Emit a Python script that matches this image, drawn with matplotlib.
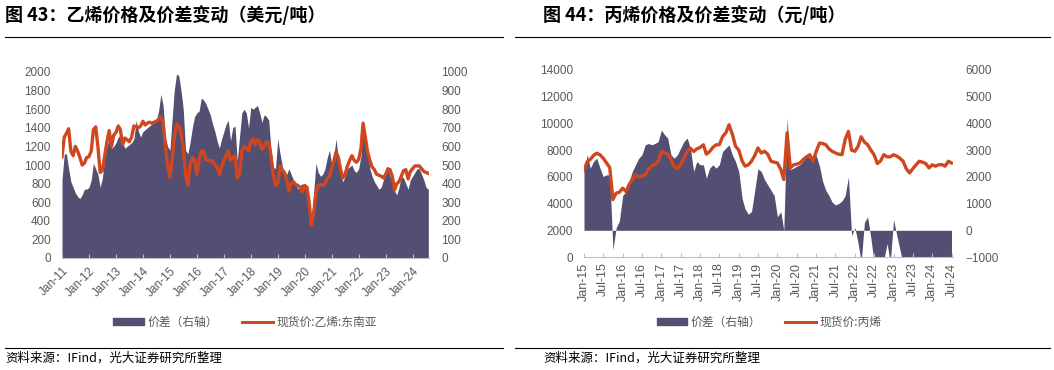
import pandas as pd
import matplotlib
matplotlib.use("Agg")
import matplotlib.pyplot as plt
from matplotlib.lines import Line2D
from matplotlib.patches import Patch

plt.rcParams['font.family'] = ['Noto Sans CJK SC', 'DejaVu Sans']

# ---- data: ethylene, SE Asia (USD/t), monthly Jan-11 .. Aug-24
eth_price = [
    1090, 1300, 1340, 1390, 1150, 1100, 1200, 1150, 1080, 1000, 1020, 1080,
    1090, 1150, 1380, 1410, 1200, 920, 940, 1100, 1250, 1370, 1200, 1320,
    1350, 1420, 1380, 1220, 1290, 1270, 1250, 1300, 1420, 1410, 1400, 1420,
    1470, 1430, 1450, 1460, 1450, 1460, 1470, 1490, 1520, 1450, 1200, 1000,
    870, 1050, 1300, 1440, 1420, 1350, 1180, 900, 780, 1000, 1080, 1060,
    900, 1050, 1150, 1150, 1060, 1050, 1040, 1050, 1000, 980, 900, 980,
    1050, 1100, 1150, 1050, 1080, 1100, 860, 900, 1150, 1200, 1180, 1150,
    1250, 1280, 1220, 1270, 1250, 1170, 1200, 1250, 1240, 1100, 900, 780,
    800, 990, 950, 920, 850, 720, 800, 820, 790, 780, 760, 710,
    780, 760, 600, 350, 480, 700, 780, 790, 780, 800, 850, 880,
    960, 1050, 1140, 1080, 950, 860, 900, 990, 1050, 1100, 1050, 1030,
    1060, 1180, 1450, 1300, 1140, 1050, 980, 950, 900, 890, 880, 860,
    900, 960, 950, 880, 730, 800, 820, 880, 940, 950, 850, 930,
    960, 990, 990, 990, 960, 930, 920, 910,
]
eth_spread = [
    420, 560, 560, 480, 410, 380, 350, 330, 320, 340, 370, 370,
    380, 420, 510, 480, 450, 380, 430, 540, 600, 640, 590, 600,
    620, 650, 660, 620, 590, 600, 610, 620, 640, 740, 680, 650,
    680, 690, 700, 710, 720, 730, 740, 790, 880, 820, 650, 600,
    580, 750, 900, 990, 980, 900, 800, 580, 560, 620, 700, 760,
    780, 790, 860, 850, 830, 800, 770, 720, 680, 630, 590, 640,
    680, 720, 740, 630, 700, 710, 520, 650, 780, 800, 780, 700,
    810, 800, 810, 820, 780, 730, 770, 760, 740, 580, 490, 480,
    640, 560, 500, 430, 450, 480, 450, 420, 400, 370, 390, 400,
    380, 370, 300, 200, 350, 510, 460, 440, 450, 480, 540, 580,
    500, 560, 640, 520, 450, 410, 440, 480, 490, 500, 470, 460,
    480, 550, 720, 620, 580, 480, 440, 410, 390, 370, 380, 420,
    450, 480, 440, 410, 360, 340, 380, 440, 430, 400, 370, 420,
    440, 460, 480, 480, 450, 420, 380, 370,
]
eth_dates = pd.date_range('2011-01-01', periods=len(eth_price), freq='MS')
eth_ticks = pd.date_range('2011-01-01', '2024-01-01', freq='YS')

# ---- data: propylene (CNY/t), monthly Jan-15 .. Jul-24
pro_price = [
    6500, 7150, 7300, 7600, 7770, 7650, 7400, 7050, 6700, 4300, 4780, 4850,
    5150, 4900, 5400, 5800, 6150, 6000, 6050, 6150, 6600, 6800, 6950, 7150,
    7900, 7800, 7700, 7300, 6750, 6650, 6900, 7400, 7900, 8150, 7900, 8100,
    8200, 8400, 7700, 7900, 8200, 8400, 8400, 9000, 9300, 9900, 9200, 8300,
    8000, 7200, 6800, 6900, 7170, 7600, 8160, 7790, 7910, 7700, 7170, 7100,
    7040, 6550, 5800, 9300, 6670, 6900, 6950, 7040, 7300, 7500, 7660, 7170,
    7910, 8530, 8500, 8410, 8100, 7910, 7790, 7700, 7660, 8800, 9400, 8000,
    7910, 8300, 9000, 8600, 8410, 8000, 7660, 7000, 7200, 7660, 7500, 7500,
    7660, 7550, 7400, 7170, 6600, 6300, 6600, 6900, 7170, 7100, 7000, 6670,
    6900, 6800, 6900, 6920, 6800, 7170, 7040,
]
pro_spread = [
    2250, 2825, 2325, 2575, 2700, 2325, 2015, 2075, 2075, -725, 100, 350,
    1300, 1450, 1825, 2200, 2450, 2700, 2825, 3200, 3250, 3200, 3250, 3320,
    3750, 3570, 3450, 2825, 2700, 2825, 3075, 3320, 3450, 3075, 2200, 2575,
    2450, 2450, 1950, 2325, 2450, 2325, 2450, 2950, 3075, 3200, 2825, 2575,
    2200, 1200, 800, 600, 700, 1500, 2300, 2200, 1900, 1700, 1500, 1300,
    500, 700, 0, 4200, 2270, 2330, 2400, 2460, 2600, 2800, 2700, 2700,
    2800, 2400, 1850, 1500, 1300, 1050, 950, 1000, 1100, 1300, 2000, -200,
    100, -500, -1200, 300, 500, -300, -1200, -1300, -1200, -1100, -500, -1200,
    400, -200, -700, -1300, -1400, -1300, -1500, -1400, -1300, -1400, -1500, -1400,
    -1300, -1400, -1500, -1300, -1400, -1300, -1400,
]
pro_dates = pd.date_range('2015-01-01', periods=len(pro_price), freq='MS')
pro_ticks = pd.date_range('2015-01-01', '2024-07-01', freq='6MS')

AREA = '#534F72'
LINE = '#D0461F'
GREY = '#595959'
AXC = '#BFBFBF'
TICKFONT = ['Liberation Sans', 'DejaVu Sans']

W, H = 1054, 370
fig = plt.figure(figsize=(W / 100, H / 100), dpi=100)


def px(x0, y0, x1, y1):
    return [x0 / W, 1 - y1 / H, (x1 - x0) / W, (y1 - y0) / H]


def style(ax, ax2, xsize):
    for a in (ax, ax2):
        for s in ('top', 'left', 'right', 'bottom'):
            a.spines[s].set_visible(False)
        a.tick_params(axis='y', length=0, labelsize=8.5, labelcolor=GREY)
    ax.spines['bottom'].set_visible(True)
    ax.spines['bottom'].set_color(AXC)
    ax.tick_params(axis='x', direction='in', length=3, color=AXC,
                   labelsize=xsize, labelcolor=GREY)
    ax.tick_params(axis='y', pad=8)
    ax2.tick_params(axis='y', pad=9)
    for lab in ax.get_xticklabels() + ax.get_yticklabels() + ax2.get_yticklabels():
        lab.set_fontfamily(TICKFONT)
    ax.set_zorder(ax2.get_zorder() + 1)
    ax.patch.set_visible(False)


def header(x0, x1, xt, title):
    fig.text(xt / W, 1 - 15 / H, title, fontsize=13, fontweight='bold',
             va='center', ha='left', color='black')
    fig.add_artist(Line2D([x0 / W, x1 / W], [1 - 37 / H] * 2,
                          color='black', lw=0.8, transform=fig.transFigure))
    fig.add_artist(Line2D([x0 / W, x1 / W], [1 - 348 / H] * 2,
                          color='black', lw=0.8, transform=fig.transFigure))
    fig.text(xt / W, 1 - 358 / H, '资料来源：IFind，光大证券研究所整理',
             fontsize=9, va='center', ha='left', color='black')


def legend(cx, label):
    fig.legend(handles=[Patch(color=AREA, label='价差（右轴）'),
                        Line2D([], [], color=LINE, lw=2.2, label=label)],
               loc='center', bbox_to_anchor=(cx / W, 1 - 322 / H), ncol=2,
               frameon=False, fontsize=8.5, labelcolor=GREY, handlelength=2.6,
               handleheight=0.6, columnspacing=2.0, handletextpad=0.3)


# ---- left panel: ethylene
ax = fig.add_axes(px(62, 72, 429, 258))
ax2 = ax.twinx()
ax2.fill_between(eth_dates, eth_spread, 0, color=AREA, lw=0)
ax.plot(eth_dates, eth_price, color=LINE, lw=2.4)
ax.set_ylim(0, 2000)
ax.set_yticks(range(0, 2001, 200))
ax2.set_ylim(0, 1000)
ax2.set_yticks(range(0, 1001, 100))
ax.set_xlim(pd.Timestamp('2011-01-01'), pd.Timestamp('2024-08-10'))
ax.set_xticks(eth_ticks)
ax.set_xticklabels([d.strftime('%b-%y') for d in eth_ticks], rotation=45,
                   ha='right', rotation_mode='anchor')
style(ax, ax2, 8.5)
ax.tick_params(axis='x', pad=5)
legend(245, '现货价:乙烯:东南亚')
header(5, 503, 5, '图 43：乙烯价格及价差变动（美元/吨）')

# ---- right panel: propylene
bx = fig.add_axes(px(584, 70, 953, 257))
bx2 = bx.twinx()
bx2.fill_between(pro_dates, pro_spread, 0, color=AREA, lw=0)
bx.plot(pro_dates, pro_price, color=LINE, lw=2.4)
bx.set_ylim(0, 14000)
bx.set_yticks(range(0, 14001, 2000))
bx2.set_ylim(-1000, 6000)
bx2.set_yticks(range(-1000, 6001, 1000))
bx.set_xlim(pd.Timestamp('2015-01-01'), pd.Timestamp('2024-07-15'))
bx.set_xticks(pro_ticks)
bx.set_xticklabels([d.strftime('%b-%y') for d in pro_ticks], rotation=90,
                   ha='center', va='top')
style(bx, bx2, 9)
bx.tick_params(axis='x', pad=4)
legend(769, '现货价:丙烯')
header(515, 1050, 543, '图 44：丙烯价格及价差变动（元/吨）')

fig.savefig('out.png', dpi=100)
